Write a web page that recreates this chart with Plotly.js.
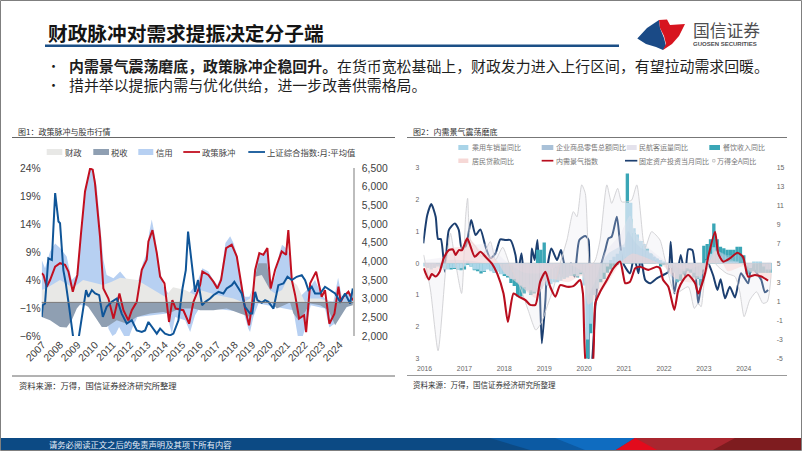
<!DOCTYPE html>
<html><head><meta charset="utf-8">
<script src="https://cdn.plot.ly/plotly-3.0.1.min.js"></script>
<style>html,body{margin:0;padding:0;background:#fff;overflow:hidden}#c{width:802px;height:451px}</style>
</head><body><div id="c"></div>
<script>
// ---------- Chart 1 data ----------
const yearTicks1 = [2007,2008,2009,2010,2011,2012,2013,2014,2015,2016,2017,2018,2019,2020,2021,2022,2023,2024];
const pulseX = [2006.94,2007.04,2007.23,2007.42,2007.71,2007.99,2008.28,2008.47,2008.72,2008.98,2009.19,2009.42,2009.71,2009.86,2009.99,2010.19,2010.28,2010.47,2010.76,2011.05,2011.2,2011.39,2011.62,2011.9,2012.1,2012.38,2012.67,2012.95,2013.05,2013.28,2013.53,2013.72,2013.97,2014.23,2014.42,2014.61,2015.05,2015.38,2015.63,2016.01,2016.14,2016.48,2016.77,2017.0,2017.21,2017.5,2017.82,2018.11,2018.39,2018.58,2018.81,2018.97,2019.16,2019.4,2019.63,2019.86,2020.05,2020.3,2020.68,2020.93,2021.06,2021.26,2021.45,2021.68,2021.96,2022.08,2022.31,2022.65,2022.97,2023.16,2023.41,2023.7,2023.93,2024.06,2024.21,2024.5,2024.69,2024.79];
const pulseY = [5.2,4.9,2.8,4,6.4,7,6.7,5.5,1.9,4.9,12.3,19.8,23.9,23.7,21.3,14.1,11.7,2.5,0.7,-2.9,-0.8,1.6,-1.4,-3.2,-1.4,0.1,5.8,7.6,10.9,12.9,8.8,4.6,3.4,-3.5,0.4,-1.1,-1.4,-3.8,0.1,3.1,5.5,4.9,3.7,2.5,4,9.7,10.3,8.2,2.8,-1.1,-4.1,-0.8,5.8,8.8,8.5,9.7,2.5,5.8,9.1,8.5,12.9,4,1.3,-2.9,-2.3,-5.3,3.4,5.5,1,2.2,-3.8,-2,2.8,0.1,1,1.9,0.7,0.4];
const indexX = [2006.94,2007,2007.13,2007.32,2007.52,2007.71,2007.9,2007.99,2008.18,2008.32,2008.51,2008.76,2009.04,2009.23,2009.48,2009.61,2009.81,2010,2010.23,2010.44,2010.66,2010.95,2011.24,2011.52,2011.81,2012.1,2012.38,2012.67,2012.86,2013.05,2013.34,2013.53,2013.72,2014,2014.29,2014.48,2014.77,2015,2015.19,2015.32,2015.53,2015.72,2015.89,2016.12,2016.31,2016.58,2016.77,2017.06,2017.34,2017.53,2017.82,2017.97,2018.15,2018.39,2018.58,2018.87,2019,2019.16,2019.29,2019.54,2019.73,2019.92,2020.21,2020.49,2020.78,2021.01,2021.26,2021.54,2021.83,2022.02,2022.21,2022.4,2022.59,2022.88,2023.16,2023.45,2023.74,2024.02,2024.31,2024.6,2024.75];
const indexY = [2511,2825,2870,4080,4035,5828,5066,5021,3766,3407,2780,1900,1900,2511,3228,3049,3228,3138,3093,2511,2780,2914,3004,2600,2332,2421,2150,2108,2150,2376,2197,2063,2197,2063,2018,2063,2421,3273,3766,4797,3945,3183,3497,2825,2914,3004,3093,3183,3138,3273,3362,3452,3318,3138,2780,2600,2600,3183,2960,2888,2960,2914,2735,3362,3407,3586,3497,3586,3631,3497,3228,3318,3138,3138,3318,3228,3138,2914,3138,2870,3273];
const creditHighX = [2006.94,2007.13,2007.42,2007.71,2007.99,2008.37,2008.66,2008.95,2009.19,2009.42,2009.71,2009.9,2010.09,2010.28,2010.47,2010.66,2011.05,2011.43,2011.81,2012.19,2012.48,2012.73,2012.95,2013.09,2013.24,2013.43,2013.68,2013.91,2014.19,2014.48,2014.86,2015.24,2015.53,2015.82,2016.14,2016.48,2016.77,2017,2017.19,2017.46,2017.73,2017.92,2018.15,2018.39,2018.58,2018.83,2019.06,2019.21,2019.4,2019.63,2019.86,2020.05,2020.3,2020.55,2020.7,2020.93,2021.08,2021.26,2021.45,2021.73,2022.31,2022.59,2022.97,2023.26,2023.64,2023.91,2024.12,2024.4,2024.75];
const creditHighY = [7.6,6.1,9.1,10.5,9.7,8.2,4,4.9,12.7,19.8,23.9,23.7,20.7,14.2,7.6,4.9,4.3,5.5,4.1,3.4,4,7,8.8,12.4,14.8,11.8,6.4,2.8,1.6,1.9,1.6,1,2.2,3.4,6.1,5.5,4,3.1,4.6,10.6,11.8,10.6,8.2,2.8,1,1,2.8,6.4,8.8,8.5,9.7,2.8,4.6,8.8,10.3,9.7,8.8,4,1.6,1,2.8,4,1.3,0.4,0.1,4.4,1,1.9,1.6];
const creditLowX = [2006.94,2010.66,2010.76,2010.99,2011.18,2011.37,2011.66,2011.96,2012.15,2012.42,2014.1,2014.39,2014.58,2015.15,2015.44,2015.72,2016.01,2018.49,2018.77,2018.87,2019.06,2019.35,2021.35,2021.6,2021.89,2022.11,2022.34,2023.16,2023.41,2023.7,2024.02,2024.4,2024.75];
const creditLowY = [0,-0.8,-4.7,-6,-5.6,-4.4,-6,-6,-4.4,-2.6,-2,-5.6,-2.6,-3.2,-5.3,-2.3,-0.8,-1.7,-4.7,-5.3,-2.6,-0.2,-1.4,-6,-6,-3.8,-0.5,-1.1,-4.5,-3.8,-2,-0.8,-0.2];
const fiscalX = [2006.94,2007.25,2007.99,2008.74,2009.31,2010.45,2010.95,2011.43,2012.4,2012.86,2014,2014.46,2015.15,2015.72,2016.01,2016.96,2017.92,2018.49,2018.87,2019.16,2019.54,2020.02,2020.3,2020.7,2021.05,2021.56,2022.02,2022.31,2022.88,2023.16,2023.64,2024.75];
const fiscalY = [2.2,2.6,4,2.6,4,3.1,3.7,4.4,4,3.1,1,2.7,2.2,1.3,2.2,1.3,0.7,0,0.7,4.6,4.9,2.2,1.6,2.2,4.4,3.1,0,0.7,0.7,0.4,0,0];
const taxX = [2006.94,2007.42,2007.99,2008.37,2008.66,2008.95,2009.23,2009.61,2010,2010.38,2010.66,2011.24,2011.81,2012.38,2013.15,2013.91,2014.19,2014.86,2015.63,2016.01,2016.77,2017.53,2018.3,2018.87,2019.1,2019.2,2019.35,2019.82,2020.02,2020.11,2020.4,2020.78,2021.16,2021.35,2021.64,2022.02,2022.31,2022.88,2023.36,2023.74,2024.02,2024.4,2024.75];
const taxY = [-2.6,-3.2,-4.4,-4.5,-3.2,-1.1,0,-0.8,-2.6,-4.4,-4.4,-3.2,-3.8,-2.6,-2,-1.7,-2,-1.1,-1.1,-1.4,-1.4,-1.1,-2,-2.6,-0.5,5.2,7,7,4,0,-1.1,-0.5,0,-2,-3.2,-1.7,-0.2,-0.5,-1.4,-4.1,-2.6,-0.8,-0.5];
const leftTicks1 = [-6,-1,4,9,14,19,24];
const leftLabels1 = ['−6%','−1%','4%','9%','14%','19%','24%'];
const rightTicks1 = [2000,2500,3000,3500,4000,4500,5000,5500,6000,6500];
const rightLabels1 = ['2,000','2,500','3,000','3,500','4,000','4,500','5,000','5,500','6,000','6,500'];

// ---------- Chart 2 data ----------
const yearTicks2 = [2016,2017,2018,2019,2020,2021,2022,2023,2024];
const domesticX = [2015.98,2016.11,2016.18,2016.28,2016.38,2016.48,2016.61,2016.71,2016.78,2016.86,2016.94,2017.07,2017.26,2017.4,2017.53,2017.69,2017.82,2017.98,2018.09,2018.23,2018.36,2018.53,2018.65,2018.78,2018.9,2019.03,2019.15,2019.28,2019.4,2019.57,2019.73,2019.9,2019.97,2020.07,2020.19,2020.28,2020.4,2020.57,2020.73,2020.9,2020.98,2021.03,2021.15,2021.28,2021.4,2021.61,2021.82,2021.9,2021.98,2022.11,2022.26,2022.36,2022.48,2022.61,2022.78,2022.86,2023.03,2023.11,2023.28,2023.36,2023.48,2023.65,2023.84,2023.98,2024.11,2024.28,2024.44,2024.61];
const domesticY = [-0.16,-0.51,-0.34,-0.42,-0.27,0.15,0.41,0.43,0.26,0.41,0.41,0.78,0.2,0.36,0.2,-0.01,-0.32,-0.95,-1.84,-0.95,-1.05,-1.16,-1.31,-1.31,-0.58,-0.27,-0.74,-1.05,-0.69,-0.74,-0.72,-0.53,-0.95,-3.4,-3.4,-1.26,-0.9,-0.53,-0.16,0.05,-0.37,-0.63,-0.58,-0.16,-0.11,-0.21,-0.11,-0.16,-0.53,-0.74,-1.47,-0.84,-0.53,-0.37,-0.63,-0.95,-0.32,0.2,0.99,0.31,0.05,0.15,0.33,0.2,-0.42,-0.37,-0.42,-0.55];
const faiX = [2015.97,2016.07,2016.17,2016.28,2016.34,2016.41,2016.51,2016.61,2016.76,2016.86,2016.93,2017.03,2017.17,2017.28,2017.4,2017.53,2017.65,2017.78,2017.9,2018.03,2018.15,2018.28,2018.34,2018.43,2018.53,2018.63,2018.69,2018.76,2018.83,2018.88,2018.94,2019.03,2019.07,2019.18,2019.32,2019.42,2019.53,2019.67,2019.76,2019.88,2020.03,2020.11,2020.13,2020.17,2020.28,2020.36,2020.53,2020.61,2020.69,2020.82,2020.9,2020.98,2021.15,2021.25,2021.36,2021.42,2021.53,2021.65,2021.82,2021.98,2022.11,2022.17,2022.26,2022.42,2022.53,2022.61,2022.71,2022.78,2022.86,2023.03,2023.09,2023.23,2023.34,2023.42,2023.53,2023.65,2023.78,2023.93,2024.11,2024.19,2024.36,2024.44,2024.53,2024.61];
const faiY = [7.08,10.04,11.2,9.87,7.53,7.53,4.11,8.47,9.17,8.47,6.55,6.73,9.52,7.95,8.54,6.73,5.51,6.03,7.5,7.43,7.43,5.86,3.94,6.03,2.71,2.89,6.55,5.33,7.43,3.59,-3.39,1.14,4.28,6.55,5.33,6.38,4.63,4.98,3.59,7.43,7.84,7.43,-6,-6,0.44,3.76,6.38,7.6,7.77,9.87,7.08,4.98,3.94,5.68,3.94,5.68,3.24,2.89,3.41,3.76,4.11,7.25,1.84,5.86,3.59,6.45,6.38,4.63,0.79,5.33,5.16,3.76,2.19,3.31,1.32,2.54,1.42,3.94,2.89,4.63,3.76,3.24,1.95,2.19];
const windX = [2015.98,2016.15,2016.34,2016.53,2016.65,2016.78,2016.93,2017.03,2017.08,2017.15,2017.28,2017.44,2017.65,2017.78,2017.96,2018.15,2018.36,2018.61,2018.79,2018.94,2019.07,2019.23,2019.4,2019.57,2019.73,2019.82,2019.94,2020.03,2020.15,2020.28,2020.4,2020.57,2020.69,2020.84,2020.94,2021.07,2021.19,2021.32,2021.48,2021.53,2021.69,2021.9,2022.03,2022.28,2022.61,2022.76,2022.86,2022.93,2023.03,2023.19,2023.36,2023.57,2023.78,2023.9,2024.01,2024.15,2024.32,2024.48,2024.59,2024.69];
const windY = [0.26,-0.84,-2.75,-0.21,0.94,-0.01,-0.95,1.46,2.04,0.73,0.52,0.2,0.68,0.1,0.5,-0.11,-0.63,-1.52,-2.1,-1.84,-1.37,-0.79,0,0.73,1.62,1.46,2.46,2.19,-0.11,0.1,0.73,2.46,1.88,2.35,1.93,1.93,1.98,2.46,0.73,0.47,0.99,0.73,0.1,-0.95,-0.74,-1.42,-1.26,-1.37,-0.42,0.1,-0.11,-0.32,-0.42,-0.9,-1.68,-1.16,-0.9,-1.26,-1.21,-0.32];
const retailX = [2016,2016.3,2016.6,2017,2017.5,2018,2018.3,2018.6,2018.9,2019.2,2019.6,2019.95,2020.05,2020.15,2020.3,2020.45,2020.6,2020.8,2021,2021.1,2021.25,2021.45,2021.7,2022,2022.25,2022.5,2022.8,2023.1,2023.3,2023.6,2023.9,2024.1,2024.4,2024.69];
const retailY = [-0.1,-0.1,0.1,0.1,0,-0.3,-0.6,-0.9,-0.8,-0.5,-0.4,-0.3,-2.4,-1.6,-0.8,0,0.3,0.45,0.6,1,0.7,0.45,0.3,-0.05,-0.55,-0.3,-0.5,0.05,0.4,0.25,0.25,-0.25,-0.3,-0.25];
const loanX = [2016,2016.3,2016.6,2017,2017.1,2017.4,2017.8,2018,2018.4,2018.8,2019.1,2019.6,2019.95,2020.1,2020.3,2020.6,2020.9,2021.2,2021.5,2022,2022.3,2022.7,2023,2023.3,2023.6,2024,2024.3,2024.69];
const loanY = [-0.5,-0.3,0.45,0.55,0.8,0.4,0.1,-0.3,-0.7,-1.1,-0.5,-0.6,-0.4,-1.3,-1.1,-0.6,0,0.3,0.2,-0.1,-0.5,-0.6,-0.3,0.4,-0.25,-0.1,-0.4,-0.5];
const flightX = [2016,2016.5,2017,2017.6,2018,2018.5,2019,2019.5,2020,2020.1,2020.3,2020.5,2020.9,2021.15,2021.3,2021.6,2022,2022.5,2023,2023.3,2023.7,2024,2024.69];
const flightY = [0.1,0.2,0.5,0.6,0.1,-0.3,-0.3,0,-0.3,-1,-0.5,0.3,0.9,1.5,0.9,0.5,0.1,-0.2,0,0.4,0.1,-0.05,0.05];
const carY = [-0.1,-0.15,-0.2,-0.15,-0.1,-0.15,-0.2,-0.2,-0.15,-0.15,-0.2,-0.15,
 -0.1,0.05,-0.1,-0.2,-0.2,-0.25,-0.25,-0.2,-0.25,-0.3,-0.25,-0.35,
 -0.35,-0.4,-0.5,-0.5,-0.6,-0.7,-0.75,-0.85,-0.85,-0.9,-0.9,-0.8,
 -0.55,-0.7,-0.65,-0.6,-0.6,-0.55,-0.5,-0.45,-0.4,-0.35,-0.4,-0.3,
 -0.7,-2.4,-1.9,-1,-0.8,-0.5,-0.3,-0.1,0.1,0.2,0.3,0.4,
 0.5,1.9,1.9,1.1,0.9,0.7,0.6,0.4,0.3,0.2,0.15,0.1,
 0.05,-0.05,-0.15,-0.3,-0.5,-0.35,-0.25,-0.15,-0.2,-0.3,-0.4,-0.5,
 -0.2,0.1,0.3,0.5,0.35,0.2,0.1,0.05,0.05,0.05,0.05,0,
 -0.05,-0.1,-0.15,0.05,0.05,0.05,-0.1,-0.2,-0.2];
const foodY = [0,0,0,0,-0.05,-0.1,-0.15,-0.18,-0.2,-0.18,-0.2,-0.22,
 -0.2,-0.05,-0.1,-0.22,-0.25,-0.32,-0.28,-0.1,-0.22,-0.3,-0.25,-0.33,
 -0.4,-0.45,-0.62,-0.72,-1.05,-1.05,-0.95,-0.7,-1,-0.95,0.42,0.42,
 0.65,-0.1,-0.1,-0.15,-0.15,-0.35,-0.45,-0.4,-0.35,-0.4,-0.45,-0.35,
 -0.3,-3,-2.2,-1,-0.7,-0.6,-0.5,-0.3,-0.2,-0.1,-0.05,0.1,
 0.2,2.82,1.4,0.95,0.85,0.7,0.55,0.45,0.3,0.1,0,-0.1,
 -0.05,-0.05,-0.1,-0.1,-0.6,-0.55,-0.35,-0.25,-0.3,-0.45,-0.5,-0.7,
 0.55,0.6,0.75,1.25,0.75,0.52,0.47,0.42,0.42,0.42,0.52,0.52,
 0.25,-0.35,-0.3,-0.25,-0.3,-0.3,-0.3,-0.3,-0.3];
const barMonths = carY.map((_, i) => 2016 + i / 12);
const leftTicks2 = [-3,-2,-1,0,1,2,3];
const leftLabels2 = ['3','2','1','0','1','2','3'];
const rightTicks2 = [-5,-3,-1,1,3,5,7,9,11,13,15];

// ---------- Page geometry helpers ----------
const W = 802, H = 451;
const px = x => x / W, py = y => 1 - y / H;
const CJK = '"Noto Sans CJK SC","Noto Sans",sans-serif';
const LAT = '"Liberation Sans",Arial,sans-serif';
const shapes = [], ann = [];
const rect = (x0,y0,x1,y1,c,o={}) => shapes.push({type:'rect',xref:'paper',yref:'paper',x0:px(x0),x1:px(x1),y0:py(y0),y1:py(y1),fillcolor:c,line:{width:0},layer:'above',...o});
const hline = (x0,x1,y,c,w) => shapes.push({type:'line',xref:'paper',yref:'paper',x0:px(x0),x1:px(x1),y0:py(y),y1:py(y),line:{color:c,width:w},layer:'above'});
const poly = (pts,c) => shapes.push({type:'path',xref:'paper',yref:'paper',path:'M'+pts.map(p=>px(p[0])+' '+py(p[1])).join(' L')+' Z',fillcolor:c,line:{width:0},layer:'above'});
const text = (x,y,t,size,c,o={}) => ann.push({xref:'paper',yref:'paper',x:px(x-2),y:py(y),text:t,showarrow:false,xanchor:'left',yanchor:'middle',align:'left',font:{family:CJK,size:size,color:c},...o});

// frame
shapes.push({type:'rect',xref:'paper',yref:'paper',x0:px(0.5),x1:px(801.5),y0:py(0.5),y1:py(450.5),line:{color:'#7f7f7f',width:1},fillcolor:'rgba(0,0,0,0)',layer:'above'});
// header
text(48,33,'<b>财政脉冲对需求提振决定分子端</b>',19.7,'#141414');
hline(45,619,45.7,'#1b4f86',2.6);
text(47,65,'•',13,'#1a1a1a');
text(47,84,'•',13,'#1a1a1a');
text(69,65,'<b>内需景气震荡磨底，政策脉冲企稳回升。</b>在货币宽松基础上，财政发力进入上行区间，有望拉动需求回暖。',14.9,'#1f1f1f');
text(69,84,'措并举以提振内需与优化供给，进一步改善供需格局。',14.9,'#1f1f1f');
// logo
poly([[637.3,38.5],[647,28],[659,20],[660,28],[664,38],[666,46],[663,50],[656,47],[646,44]],'#1a4a86');
poly([[659,20],[667,19.5],[670,25],[685,24],[679,36],[672,44],[663,50],[666,44],[664,36],[660,28]],'#d7141f');
text(692.5,29.5,'国信证券',16.8,'#4e4e50');
text(692.5,44.5,'<b>GUOSEN SECURITIES</b>',6,'#4e4e50',{font:{family:LAT,size:6,color:'#4e4e50'}});
// chart titles and rules
text(18,131,'图1：政策脉冲与股市行情',8,'#333');
hline(12,395,137.5,'#666',1);
text(413,131,'图2：内需景气震荡磨底',8,'#333');
hline(407,787,137.5,'#777',1);
// sources
hline(12,395,376,'#666',1);
hline(407,787,375.5,'#999',1);
text(18.5,385,'资料来源：万得，国信证券经济研究所整理',8.3,'#333');
text(413,384,'资料来源：万得，国信证券经济研究所整理',7.5,'#333');
// footer band
rect(1,438,801,450,'#0c4a84');
poly([[490,438],[600,438],[585,450],[530,450]],'#0c5aa3');
poly([[555,438],[635,438],[616,450],[585,450]],'#0f6cc0');
poly([[635,438],[801,438],[801,450],[616,450]],'#a9262f');
poly([[635,438],[657,450],[616,450]],'#e30b1c');
poly([[735,438],[801,438],[801,450],[713,450]],'#7e1c1f');
text(48.5,444,'请务必阅读正文之后的免责声明及其项下所有内容',8.3,'#e6eef7');

// legend 1
rect(46.7,149,62.3,155,'#e8e8e6');
text(65,152,'财政',8.4,'#444');
rect(93.3,149,109,155,'#8f9fb2');
text(111,152,'税收',8.4,'#444');
rect(138.3,149,153.3,155,'#b7d0f2');
text(156,152,'信用',8.4,'#444');
hline(183.3,200,152,'#c20f20',1.8);
text(201.5,152,'政策脉冲',8.4,'#444');
hline(248.3,265,152,'#0f5598',1.8);
text(266.5,152,'上证综合指数:月:平均值',8.4,'#444');
// legend 2
const L2 = (z)=>400+z/3;
rect(L2(175),145,L2(205),150,'#a9d4e8');
text(L2(215),147.3,'乘用车销量同比',7,'#777');
rect(L2(425),145,L2(460),150,'#a9c1d8');
text(L2(467),147.3,'企业商品零售总额同比',7,'#777');
rect(L2(680),145,L2(710),150,'#e4e2ec');
text(L2(718),147.3,'民航客运量同比',7,'#777');
rect(L2(928),145,L2(960),150,'#3aa6b6');
text(L2(968),147.3,'餐饮收入同比',7,'#777');
rect(L2(175),158.5,L2(205),163,'#f6d8d6');
text(L2(215),160.7,'居民贷款同比',7,'#777');
hline(L2(425),L2(460),160.7,'#b80e1e',1.7);
text(L2(467),160.7,'内需景气指数',7,'#777');
hline(L2(675),L2(712),160.7,'#1c3f70',1.7);
text(L2(718),160.7,'固定资产投资当月同比',7,'#777');
shapes.push({type:'rect',xref:'paper',yref:'paper',x0:px(L2(938)),x1:px(L2(945)),y0:py(162),y1:py(159.5),line:{color:'#bbb',width:0.8},fillcolor:'#fff',layer:'above'});
text(L2(950),160.7,'万得全A同比',7,'#777');

// zero lines drawn on top of the fills
shapes.push({type:'line',xref:'paper',yref:'y',x0:px(41.7),x1:px(353.3),y0:0,y1:0,line:{color:'#777',width:1},layer:'above'});
shapes.push({type:'line',xref:'paper',yref:'y4',x0:px(423.3),x1:px(771.7),y0:0,y1:0,line:{color:'#ccc',width:1},layer:'between'});

const fill1 = (x,y,c,name) => ({type:'scatter',mode:'lines',x,y,name,xaxis:'x',yaxis:'y',fill:'tozeroy',fillcolor:c,line:{width:0,color:c}});
const fill2 = (x,y,c,name,lc,lw) => ({type:'scatter',mode:'lines',x,y,name,xaxis:'x2',yaxis:'y4',fill:'tozeroy',fillcolor:c,line:{width:lw||0,color:lc||c,shape:'spline',smoothing:0.6}});

const traces = [
  fill1(creditHighX,creditHighY,'#b7d0f2','信用'),
  fill1(creditLowX,creditLowY,'#b7d0f2','信用(负)'),
  fill1(taxX,taxY,'#8f9fb2','税收'),
  fill1(fiscalX,fiscalY,'#e8e8e6','财政'),
  {type:'scatter',mode:'lines',x:pulseX,y:pulseY,name:'政策脉冲',xaxis:'x',yaxis:'y',line:{color:'#c20f20',width:2}},
  {type:'scatter',mode:'lines',x:indexX,y:indexY,name:'上证综合指数:月:平均值',xaxis:'x',yaxis:'y2',line:{color:'#0f5598',width:2}},
  {type:'scatter',mode:'lines',x:faiX,y:faiY,name:'固定资产投资当月同比',xaxis:'x2',yaxis:'y3',line:{color:'#1c3f70',width:2,shape:'spline',smoothing:0.6}},
  {type:'bar',x:barMonths,y:foodY,width:1/12,name:'餐饮收入同比',xaxis:'x2',yaxis:'y4',marker:{color:'#3aa6b6',line:{width:0}}},
  {type:'bar',x:barMonths,y:carY,width:1/12,name:'乘用车销量同比',xaxis:'x2',yaxis:'y4',marker:{color:'#abd6e8',line:{width:0}}},
  fill2(windX,windY,'rgba(228,228,234,0.25)','万得全A同比','#cfcfd2',0.9),
  fill2(flightX,flightY,'rgba(228,226,238,0.35)','民航客运量同比'),
  fill2(retailX,retailY,'rgba(185,208,228,0.38)','企业商品零售总额同比'),
  fill2(loanX,loanY,'rgba(247,212,210,0.50)','居民贷款同比'),
  {type:'scatter',mode:'lines',x:domesticX,y:domesticY,name:'内需景气指数',xaxis:'x2',yaxis:'y4',line:{color:'#b80e1e',width:2.1,shape:'spline',smoothing:0.6}}
];

const tf1 = {family:LAT,size:10.3,color:'#404040'}, tf2 = {family:LAT,size:6.8,color:'#666'};
const layout = {
  width:W,height:H,margin:{l:0,r:0,t:0,b:0,pad:0},paper_bgcolor:'#fff',plot_bgcolor:'rgba(0,0,0,0)',showlegend:false,barmode:'overlay',
  xaxis:{domain:[px(41.7),px(353.3)],range:[2006.94,2024.78],anchor:'y',tickmode:'array',tickvals:yearTicks1,ticktext:yearTicks1.map(String),tickangle:-45,tickfont:tf1,showgrid:false,zeroline:false,showline:false,ticks:''},
  yaxis:{domain:[py(336),py(168)],range:[-6,24],anchor:'x',tickmode:'array',tickvals:leftTicks1,ticktext:leftLabels1,tickfont:tf1,showgrid:false,zeroline:false,showline:false,ticks:''},
  yaxis2:{domain:[py(336),py(168)],overlaying:'y',side:'right',anchor:'x',range:[2000,6500],tickmode:'array',tickvals:rightTicks1,ticktext:rightLabels1,tickfont:tf1,showgrid:false,zeroline:false,showline:true,linecolor:'#bdbdbd',linewidth:1.5,ticks:'',ticklabelstandoff:5},
  xaxis2:{domain:[px(423.3),px(771.7)],range:[2015.97,2024.7],anchor:'y3',tickmode:'array',tickvals:yearTicks2,ticktext:yearTicks2.map(String),tickangle:0,tickfont:tf2,showgrid:false,zeroline:false,showline:false,ticks:'',ticklabelstandoff:4},
  yaxis3:{domain:[py(358.7),py(167.7)],side:'right',anchor:'x2',range:[-5,15],tickmode:'array',tickvals:rightTicks2,ticktext:rightTicks2.map(String),tickfont:tf2,showgrid:false,zeroline:false,showline:false,ticks:'',ticklabelstandoff:4},
  yaxis4:{domain:[py(358.7),py(167.7)],overlaying:'y3',side:'left',anchor:'x2',range:[-3,3],tickmode:'array',tickvals:leftTicks2,ticktext:leftLabels2,tickfont:tf2,showgrid:false,zeroline:false,showline:false,ticks:'',ticklabelstandoff:3},
  shapes:shapes,annotations:ann
};
Plotly.newPlot('c',traces,layout,{displayModeBar:false,staticPlot:true});
</script></body></html>
